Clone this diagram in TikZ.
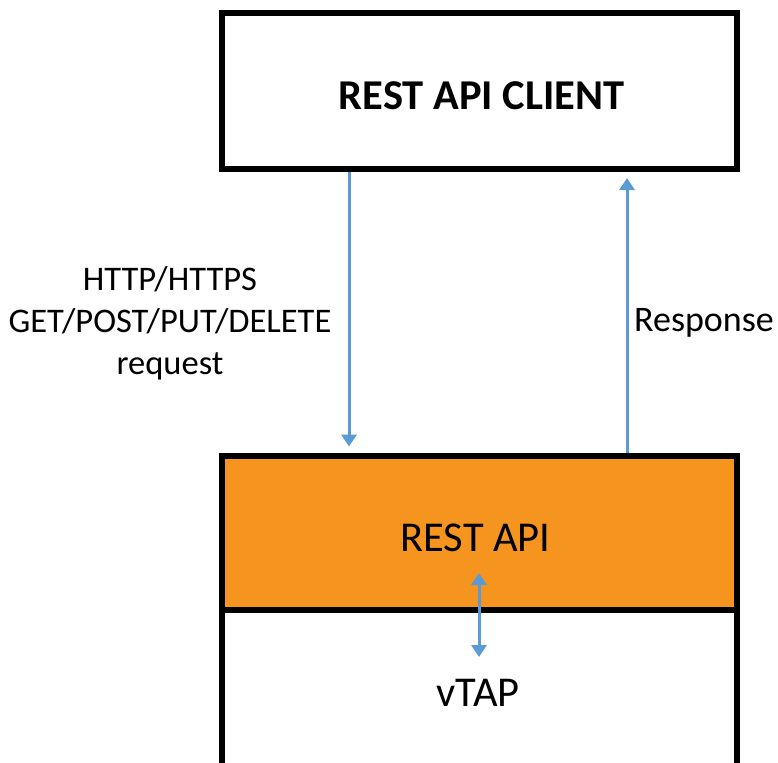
\documentclass[tikz,border=0pt]{standalone}
\usepackage{fontspec}
\setmainfont{Carlito}
\usetikzlibrary{arrows.meta,calc}
\definecolor{apiorange}{RGB}{246,148,32}
\definecolor{arrblue}{RGB}{91,155,213}
\tikzset{
  box/.style={draw=black, line width=6pt, rectangle, inner sep=0pt},
  bigtxt/.style={font=\fontsize{42.5}{48}\selectfont, inner sep=0pt},
  arr/.style={draw=arrblue, line width=3pt, -{Triangle[width=15pt,length=12pt]}},
  darr/.style={draw=arrblue, line width=3pt, {Triangle[width=15pt,length=12pt]}-{Triangle[width=15pt,length=12pt]}},
  lbl/.style={font=\fontsize{34.5}{42}\selectfont, align=center, inner sep=0pt}
}
\begin{document}
\begin{tikzpicture}[x=1pt,y=-1pt]
\useasboundingbox (0,0) rectangle (778,762);
% boxes
\node[box, minimum width=515pt, minimum height=156pt] (client) at (479.5,91) {};
\node[bigtxt, font=\fontsize{42.5}{48}\selectfont\bfseries] (clienttxt) at (481.5,96) {REST API CLIENT};
\node[box, fill=apiorange, minimum width=515pt, minimum height=154.5pt] (api) at (479.5,532.75) {};
\node[bigtxt] (apitxt) at (475.5,538) {REST API};
\node[box, minimum width=515pt, minimum height=170pt] (vtap) at (479.5,695) {};
\node[bigtxt] (vtaptxt) at (478,693) {vTAP};
% connector positions
\coordinate (xl) at (349,0);
\coordinate (xr) at (627,0);
\coordinate (m1) at (479,573);
\coordinate (m2) at (479,657);
\draw[arr, shorten >=6pt] (client.south -| xl) -- (api.north -| xl);
\draw[arr, shorten >=6pt] (api.north -| xr) -- (client.south -| xr);
\draw[darr] (m1) -- (m2);
% labels
\node[lbl] (req) at (170,323) {HTTP/HTTPS\\GET/POST/PUT/DELETE\\request};
\node[lbl, font=\fontsize{36}{42}\selectfont] (resp) at (704,323) {Response};
\end{tikzpicture}
\end{document}
